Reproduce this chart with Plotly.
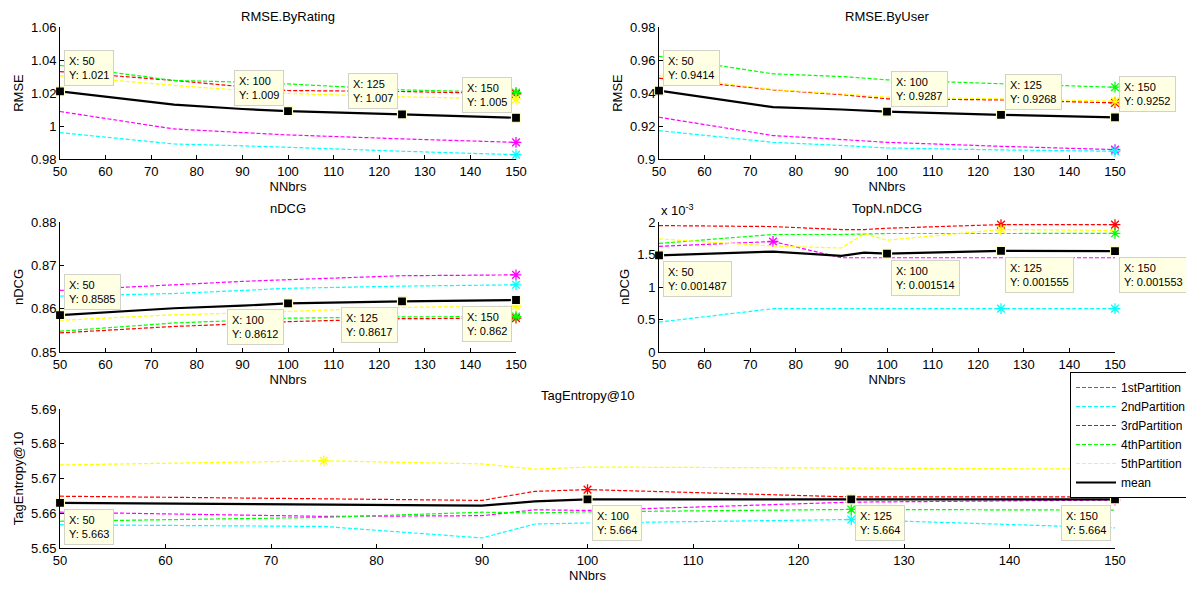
import plotly.graph_objects as go

# ---------------- data ----------------
NNBRS = [50, 75, 90, 95, 100, 125, 150]
SERIES_NAMES = ["1stPartition", "2ndPartition", "3rdPartition", "4thPartition", "5thPartition", "mean"]
SERIES_COLORS = ["#FF00FF", "#00FFFF", "#FF0000", "#00FF00", "#FFFF00", "#000000"]
TIP_X = [50, 100, 125, 150]

rmse_rating_p1 = [1.0088, 0.9982, 0.9960, 0.9953, 0.9946, 0.9922, 0.9901]
rmse_rating_p2 = [0.9960, 0.9891, 0.9880, 0.9876, 0.9871, 0.9847, 0.9826]
rmse_rating_p3 = [1.0330, 1.0276, 1.0238, 1.0226, 1.0215, 1.0209, 1.0195]
rmse_rating_p4 = [1.0367, 1.0276, 1.0266, 1.0262, 1.0255, 1.0219, 1.0203]
rmse_rating_p5 = [1.0304, 1.0246, 1.0216, 1.0206, 1.0197, 1.0177, 1.0163]
rmse_rating_mean = [1.021, 1.0130, 1.0103, 1.0096, 1.009, 1.007, 1.005]

rmse_user_p1 = [0.9253, 0.9142, 0.9118, 0.9110, 0.9101, 0.9077, 0.9057]
rmse_user_p2 = [0.9172, 0.9101, 0.9082, 0.9074, 0.9067, 0.9055, 0.9047]
rmse_user_p3 = [0.9490, 0.9419, 0.9390, 0.9378, 0.9365, 0.9358, 0.9340]
rmse_user_p4 = [0.9622, 0.9516, 0.9500, 0.9490, 0.9480, 0.9456, 0.9435]
rmse_user_p5 = [0.9506, 0.9421, 0.9395, 0.9385, 0.9375, 0.9365, 0.9350]
rmse_user_mean = [0.9414, 0.9314, 0.9300, 0.9293, 0.9287, 0.9268, 0.9252]

ndcg_p1 = [0.8642, 0.8656, 0.8663, 0.8665, 0.8667, 0.8676, 0.8678]
ndcg_p2 = [0.8629, 0.8635, 0.8642, 0.8645, 0.8647, 0.8652, 0.8655]
ndcg_p3 = [0.8544, 0.8559, 0.8565, 0.8568, 0.8570, 0.8577, 0.8578]
ndcg_p4 = [0.8548, 0.8567, 0.8573, 0.8576, 0.8578, 0.8581, 0.8582]
ndcg_p5 = [0.8573, 0.8586, 0.8590, 0.8592, 0.8593, 0.8603, 0.8606]
ndcg_mean = [0.8585, 0.8601, 0.8607, 0.8610, 0.8612, 0.8617, 0.8620]

topn_p1 = [0.001626, 0.001700, 0.001450, 0.001450, 0.001450, 0.001450, 0.001450]
topn_p2 = [0.000460, 0.000666, 0.000666, 0.000666, 0.000666, 0.000667, 0.000667]
topn_p3 = [0.001945, 0.001930, 0.001884, 0.001884, 0.001904, 0.001960, 0.001960]
topn_p4 = [0.001670, 0.001808, 0.001808, 0.001820, 0.001823, 0.001823, 0.001826]
topn_p5 = [0.001740, 0.001630, 0.001600, 0.001820, 0.001720, 0.001884, 0.001870]
topn_mean = [0.001487, 0.001545, 0.001480, 0.001528, 0.001514, 0.001555, 0.001553]

tag_p1 = [5.6603, 5.6591, 5.6593, 5.6610, 5.6608, 5.6632, 5.6638]
tag_p2 = [5.6567, 5.6562, 5.6529, 5.6569, 5.6572, 5.6582, 5.6558]
tag_p3 = [5.6649, 5.6641, 5.6637, 5.6663, 5.6668, 5.6647, 5.6647]
tag_p4 = [5.6577, 5.6588, 5.6603, 5.6601, 5.6604, 5.6611, 5.6609]
tag_p5 = [5.6739, 5.6751, 5.6742, 5.6727, 5.6733, 5.6730, 5.6727]
tag_mean = [5.663, 5.6625, 5.6622, 5.6634, 5.664, 5.664, 5.664]

PANEL_TITLES = ["RMSE.ByRating", "RMSE.ByUser", "nDCG", "TopN.nDCG", "TagEntropy@10"]
Y_TITLES = ["RMSE", "RMSE", "nDCG", "nDCG", "TagEntropy@10"]
X_TITLE = "NNbrs"
TOPN_TICKVALS = [0, 0.0005, 0.001, 0.0015, 0.002]
TOPN_TICKTEXT = ["0", "0.5", "1", "1.5", "2"]

# ---------------- layout helpers ----------------
OFF = 8  # page body margin
W, H = 1194 - OFF, 589 - OFF
FONT = "Liberation Sans, Arial, Helvetica, sans-serif"
FS = 13


def xd(x0, x1):
    return [(x0 - OFF) / W, (x1 - OFF) / W]


def yd(top, bottom):
    return [1 - (bottom - OFF) / H, 1 - (top - OFF) / H]


panels = [
    dict(series=[rmse_rating_p1, rmse_rating_p2, rmse_rating_p3, rmse_rating_p4, rmse_rating_p5, rmse_rating_mean],
         best="min", xdom=xd(60, 516), ydom=yd(27, 159), yrange=[0.98, 1.06], dtick=0.02,
         tips=["ur", "ul", "ul", "ul"], tshift=1),
    dict(series=[rmse_user_p1, rmse_user_p2, rmse_user_p3, rmse_user_p4, rmse_user_p5, rmse_user_mean],
         best="min", xdom=xd(659, 1115), ydom=yd(27, 159), yrange=[0.90, 0.98], dtick=0.02,
         tips=["ur", "ur", "ur", "ur"], tshift=1),
    dict(series=[ndcg_p1, ndcg_p2, ndcg_p3, ndcg_p4, ndcg_p5, ndcg_mean],
         best="max", xdom=xd(60, 516), ydom=yd(222, 352), yrange=[0.85, 0.88], dtick=0.01,
         tips=["ur", "dl", "dl", "dl"], tshift=4),
    dict(series=[topn_p1, topn_p2, topn_p3, topn_p4, topn_p5, topn_mean],
         best="max", xdom=xd(659, 1115), ydom=yd(222, 352), yrange=[0, 0.002], dtick=None,
         tips=["dr", "dr", "dr", "dr"], tshift=4),
    dict(series=[tag_p1, tag_p2, tag_p3, tag_p4, tag_p5, tag_mean],
         best="max", xdom=xd(60, 1115), ydom=yd(409, 548), yrange=[5.65, 5.69], dtick=0.01,
         tips=["dr", "dr", "dr", "dl"], tshift=4),
]

fig = go.Figure()
annotations = []
layout = {}

for pi, p in enumerate(panels):
    n = pi + 1
    xa = "x" if n == 1 else f"x{n}"
    ya = "y" if n == 1 else f"y{n}"
    last = (pi == len(panels) - 1)

    for si, vals in enumerate(p["series"]):
        is_mean = (si == 5)
        fig.add_trace(go.Scatter(
            x=NNBRS, y=vals, mode="lines", name=SERIES_NAMES[si],
            xaxis=xa, yaxis=ya, showlegend=last,
            line=dict(color=SERIES_COLORS[si], width=2.2 if is_mean else 1.2,
                      dash="solid" if is_mean else "4px,2px"),
            hoverinfo="skip",
        ))
        if not is_mean:
            best = min(vals) if p["best"] == "min" else max(vals)
            sx = [x for x, v in zip(NNBRS, vals) if v == best]
            sy = [v for v in vals if v == best]
            fig.add_trace(go.Scatter(
                x=sx, y=sy, mode="markers", xaxis=xa, yaxis=ya, showlegend=False,
                cliponaxis=False, hoverinfo="skip",
                marker=dict(symbol="asterisk-open", size=9, color=SERIES_COLORS[si],
                            line=dict(color=SERIES_COLORS[si], width=1.3)),
            ))

    mean_vals = p["series"][5]
    tip_y = [mean_vals[NNBRS.index(x)] for x in TIP_X]
    fig.add_trace(go.Scatter(
        x=TIP_X, y=tip_y, mode="markers", xaxis=xa, yaxis=ya, showlegend=False,
        cliponaxis=False, hoverinfo="skip",
        marker=dict(symbol="square", size=9, color="black",
                    line=dict(color="#FFFFC8", width=1.2)),
    ))
    for tx, ty, code in zip(TIP_X, tip_y, p["tips"]):
        up = code[0] == "u"
        right = code[1] == "r"
        annotations.append(dict(
            x=tx, y=ty, xref=xa, yref=ya, showarrow=False,
            text=f"X: {tx}<br>Y: {ty:.4g}", align="left",
            xanchor="left" if right else "right",
            yanchor="bottom" if up else "top",
            xshift=4 if right else -4, yshift=5 if up else -6,
            bgcolor="#FFFFE4", bordercolor="#D2D2C8", borderwidth=1, borderpad=4,
            font=dict(family=FONT, size=11, color="black"),
        ))

    ax_common = dict(showline=True, linecolor="black", linewidth=1, ticks="inside",
                     ticklen=4, tickcolor="black", showgrid=False, zeroline=False,
                     tickfont=dict(family=FONT, size=FS, color="black"), mirror=False)
    layout["xaxis" if n == 1 else f"xaxis{n}"] = dict(
        domain=p["xdom"], anchor=ya, range=[50, 150], tick0=50, dtick=10,
        title=dict(text=X_TITLE, font=dict(family=FONT, size=FS, color="black"), standoff=0),
        **ax_common)
    yax = dict(domain=p["ydom"], anchor=xa, range=p["yrange"],
               title=dict(text=Y_TITLES[pi], font=dict(family=FONT, size=FS, color="black"), standoff=4),
               **ax_common)
    if p["dtick"] is None:
        yax.update(tickmode="array", tickvals=TOPN_TICKVALS, ticktext=TOPN_TICKTEXT)
    else:
        yax.update(dtick=p["dtick"])
    layout["yaxis" if n == 1 else f"yaxis{n}"] = yax

    annotations.append(dict(
        x=(p["xdom"][0] + p["xdom"][1]) / 2, y=p["ydom"][1], xref="paper", yref="paper",
        yshift=p["tshift"], showarrow=False, text=PANEL_TITLES[pi], xanchor="center", yanchor="bottom",
        font=dict(family=FONT, size=FS, color="black")))

annotations.append(dict(
    x=(659 - OFF) / W, y=1 - (210 - OFF) / H, xref="paper", yref="paper", showarrow=False,
    text="x 10<sup>-3</sup>", xanchor="left", yanchor="middle",
    font=dict(family=FONT, size=FS, color="black")))

fig.update_layout(
    width=W, height=H,
    margin=dict(l=0, r=0, t=0, b=0, autoexpand=False),
    paper_bgcolor="white", plot_bgcolor="white",
    font=dict(family=FONT, size=FS, color="black"),
    annotations=annotations,
    legend=dict(x=(1070 - OFF) / W, y=1 - (372 - OFF) / H, xanchor="left", yanchor="top",
                bgcolor="white", bordercolor="black", borderwidth=1,
                font=dict(family=FONT, size=12, color="black"),
                itemwidth=40, tracegroupgap=0),
    **layout,
)

fig.write_html("out.html")
